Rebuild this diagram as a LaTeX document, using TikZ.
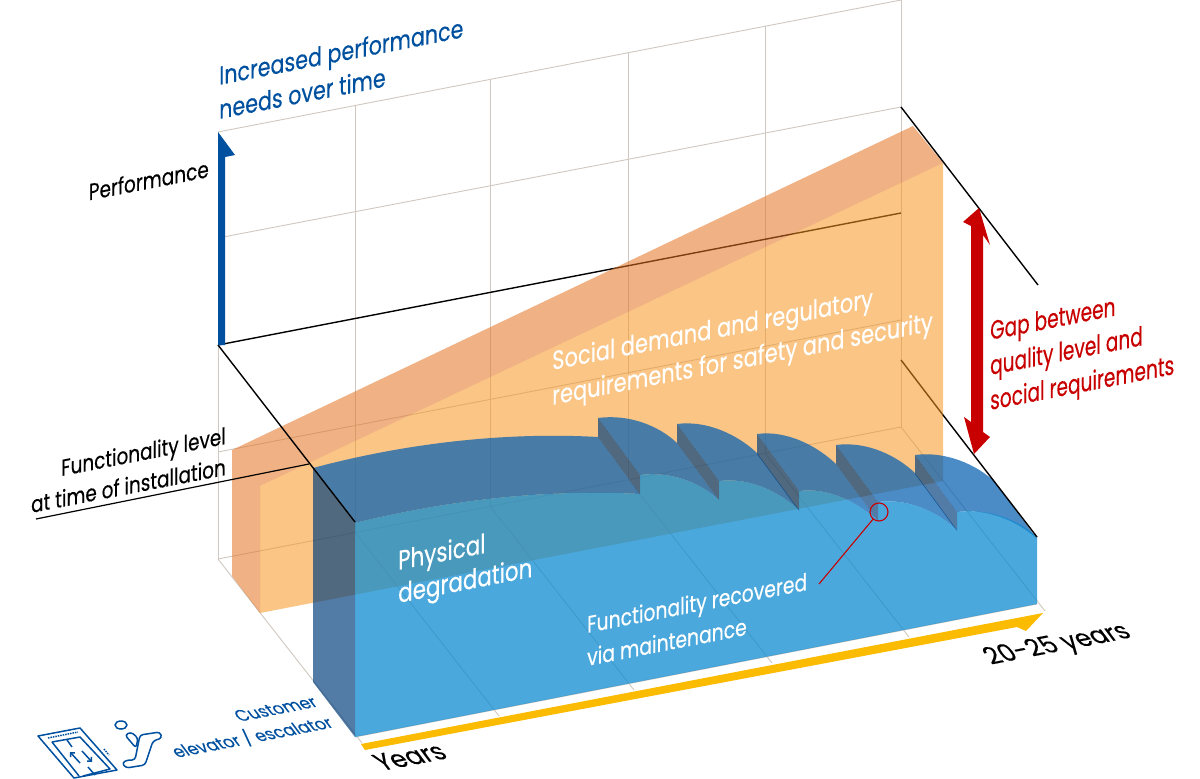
\documentclass[tikz,border=0pt]{standalone}
\usepackage{fontspec}
\setmainfont[FakeStretch=0.86,FakeBold=0.3]{Poppins}
\usepackage{tikz}
\usetikzlibrary{arrows.meta,positioning,calc}
\definecolor{gridgrey}{RGB}{208,200,192}
\definecolor{bluetext}{RGB}{0,80,160}
\definecolor{redgap}{RGB}{200,0,0}
\definecolor{yellowtime}{RGB}{251,187,0}
\definecolor{orangefront}{RGB}{245,149,33}
\definecolor{orangeside}{RGB}{227,115,33}
\definecolor{bluefront}{RGB}{15,139,208}
\definecolor{bluetop}{RGB}{5,95,178}
\definecolor{blueside}{RGB}{0,61,124}

\begin{document}
\begin{tikzpicture}[
    x=1pt, y=-1pt,
    grid/.style={draw=gridgrey, line width=0.9pt},
    edge/.style={draw=black, line width=1.4pt},
    frontface/.style={fill=orangefront, fill opacity=0.55},
    sideface/.style={fill=orangeside, fill opacity=0.55},
    blockfront/.style={fill=bluefront, fill opacity=0.75},
    blocktop/.style={fill=bluetop, fill opacity=0.72},
    blockside/.style={fill=blueside, fill opacity=0.68},
    wall/.style={inner sep=0pt, align=left, cm={1,0.195,0,1.08,(0,0)}},
    floor/.style={inner sep=0pt, align=right, cm={1,0.195,-0.6,0.8,(0,0)}},
]
\useasboundingbox (0,0) rectangle (1200,779);

%% ── Grid behind everything ───────────────────────────────────
\foreach \gx/\gy in {218/132,355/106,490/80,628/53,765/26,901/0}
  \draw[grid] (\gx,\gy) -- ++(0,427);
\draw[grid] (218,132) -- (901,0);
\draw[grid] (218,238) -- (901,107);
\draw[grid] (218,452) -- (901,320);
\draw[grid] (218,559) -- (901,427);
\foreach \gx/\gy in {218/559,355/532,490/506,628/479,765/453,901/427}
  \draw[grid] (\gx,\gy) -- ++(144,184);
\draw[grid] (355,737) -- (1037,604);

%% ── Level lines that stay under the orange ───────────────────
\coordinate (levelL) at (218,345);
\coordinate (levelR) at (901,213);
\coordinate (qualityR) at (901,107);
\coordinate (qualityE) at (1038,285);
\coordinate (baseR) at (901,360);
\coordinate (baseM) at (943,415);
\coordinate (baseE) at (1037,537);
\coordinate (frontL) at (355,522);
\coordinate (installE) at (309,464);
\coordinate (installS) at (36,519);
\draw[edge] (levelL) -- (levelR);
\draw[edge] (baseR) -- (baseM);

%% ── Social requirements wedge ────────────────────────────────
\fill[sideface] (232,450) -- (260,486) -- (260,613) -- (232,576) -- cycle;
\fill[sideface] (232,450) -- (913,126) -- (943,163) -- (260,486) -- cycle;
\fill[frontface] (260,486) -- (943,163) -- (943,481) -- (260,613) -- cycle;

%% ── Functionality block ──────────────────────────────────────
\fill[blockside] (313,468) -- (355,523) -- (355,737) -- (313,682) -- cycle;
\fill[blocktop] (313,468) .. controls (410,442) and (510,432) .. (598,437)
  -- (640,494) .. controls (552,489) and (452,499) .. (355,523) -- cycle;
\foreach \sx/\sy/\ex/\ey in {598/418/677/443,677/424/757/453,757/434/836/464,
                             836/445/915/473,915/455/995/482} {
  \fill[blocktop] (\sx,\sy) .. controls +(30,-4) and +(-19,-18) .. (\ex,\ey)
    -- ++(42,57) .. controls +(-19,-18) and +(30,-4) .. ($(\sx,\sy)+(42,57)$) -- cycle;
}
\foreach \sx/\sy/\dy in {598/418/19,677/424/19,757/434/20,836/445/19,915/455/19}
  \fill[blockside] (\sx,\sy) -- ++(42,57) -- ++(0,\dy) -- ++(-42,-57) -- cycle;
\fill[blockfront] (355,523) .. controls (452,499) and (552,489) .. (640,494)
  -- (640,475) .. controls (670,471) and (700,482) .. (719,500)
  -- (719,481) .. controls (749,477) and (780,492) .. (799,510)
  -- (799,491) .. controls (829,487) and (859,503) .. (878,521)
  -- (878,502) .. controls (908,498) and (938,512) .. (957,530)
  -- (957,512) .. controls (987,508) and (1018,519) .. (1037,537)
  -- (1037,604) -- (355,737) -- cycle;

%% ── Lines in front ───────────────────────────────────────────
\draw[edge] (levelL) -- (frontL);
\draw[edge] (qualityR) -- (qualityE);
\draw[edge] (baseM) -- (baseE);
\draw[edge, line width=1.2pt] (installS) -- (installE);

%% ── Arrows ───────────────────────────────────────────────────
\fill[bluetext] (218,132) -- (235,155) -- (225,157) -- (225,345) -- (218,345) -- cycle;
\fill[yellowtime] (361,744) -- (1043,613) -- (1026,631) -- (1017,627) -- (365,750) -- cycle;
\fill[redgap] (979,208) -- (990,245) -- (983,235) -- (983,432) -- (990,437) -- (974,454)
  -- (964,417) -- (971,422) -- (971,226) -- (963,222) -- cycle;

%% ── Recovered marker ─────────────────────────────────────────
\node[draw=redgap, line width=1.1pt, circle, minimum size=18pt, inner sep=0pt] (marker) at (879,512) {};
\coordinate (markerE) at (819,584);
\draw[redgap, line width=1.1pt] (marker) -- (markerE);

%% ── Labels ───────────────────────────────────────────────────
\node[wall,font=\fontsize{24}{31.5}\selectfont,text=bluetext,anchor=base west] (needs) at (219,119)
  {Increased performance\\needs over time};
\node[wall,font=\fontsize{21.5}{29}\selectfont,anchor=base east] (perf) at (209,177) {Performance};
\node[wall,font=\fontsize{21.4}{28.7}\selectfont,align=right,anchor=base east] (install) at (226,475)
  {Functionality level\\at time of installation};
\node[wall,font=\fontsize{24.4}{32.4}\selectfont,text=white,anchor=base west] (social) at (552,405)
  {Social demand and regulatory\\requirements for safety and security};
\node[wall,font=\fontsize{24.9}{30.6}\selectfont,text=white,anchor=base west] (physical) at (398,603)
  {Physical\\degradation};
\node[wall,font=\fontsize{21.8}{30.6}\selectfont,text=white,anchor=base west] (recovered) at (587,666)
  {Functionality recovered\\via maintenance};
\node[wall,font=\fontsize{24.5}{32.4}\selectfont,text=redgap,xscale=0.88,anchor=base west] (gap) at (990,410)
  {Gap between\\quality level and\\social requirements};
\node[floor,font=\fontsize{28}{28}\selectfont,anchor=base west] (years) at (382,771) {Years};
\node[floor,font=\fontsize{27.5}{28}\selectfont,anchor=base east] (lifetime) at (1133,637) {20-25 years};
\node[floor,font=\fontsize{18.6}{26}\selectfont,text=bluetext,anchor=base east] (customer) at (335,727)
  {Customer\\elevator / escalator};

%% ── Elevator and escalator icons ─────────────────────────────
\begin{scope}[bluetext, line width=1.5pt, line join=round]
\draw (38,736) -- (80,728) -- (117,770) -- (74,778) -- cycle;
\draw (52,742) -- (80,737) -- (110,769) -- (83,776);
\draw (52,742) -- (79,776);
\draw[densely dotted] (48,738) -- (78,732);
\draw (67,740) -- (72,747);
\draw (88,767) -- (95,775);
\draw[-{Straight Barb[length=3pt]}] (80,763) -- (70,752);
\draw[-{Straight Barb[length=3pt]}] (82,751) -- (92,762);
\draw[densely dotted] (104,749) -- (109,755);
\draw (121,725) ellipse (6 and 4);
\draw[rounded corners=3pt] (140,735) -- (160,732) -- (162,738) -- (153,741) -- (145,765) -- (126,768)
  -- (122,763) -- (127,760) -- (135,760) -- cycle;
\draw[rounded corners=3pt] (125,735) -- (131,732) -- (138,738) -- (136,748) -- cycle;
\end{scope}
\end{tikzpicture}
\end{document}
